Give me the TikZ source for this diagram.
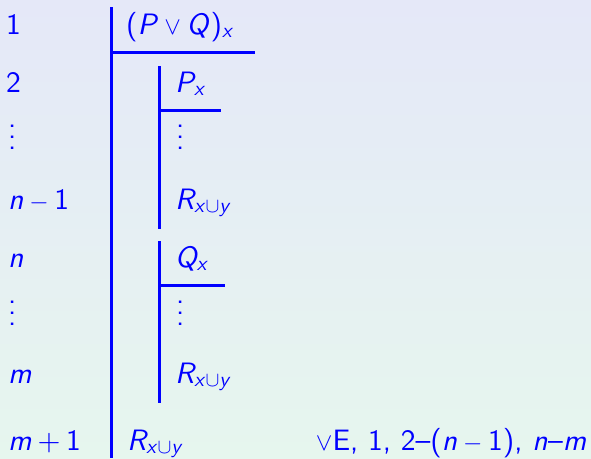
\documentclass[tikz,border=0pt]{standalone}
\DeclareFontFamily{OT1}{mycmss}{\hyphenchar\font=-1}
\DeclareFontShape{OT1}{mycmss}{m}{n}{<-> cmss10}{}
\DeclareFontShape{OT1}{mycmss}{m}{sl}{<-> cmssi10}{}
\DeclareFontShape{OT1}{mycmss}{m}{it}{<-> cmssi10}{}
\DeclareMathVersion{sans}
\SetSymbolFont{operators}{sans}{OT1}{mycmss}{m}{n}
\SetSymbolFont{letters}{sans}{OT1}{mycmss}{m}{sl}
\SetMathAlphabet{\mathrm}{sans}{OT1}{mycmss}{m}{n}
\definecolor{bgtop}{RGB}{229,232,248}
\definecolor{bgbot}{RGB}{230,246,238}
\newcommand\myvd{\vbox{\baselineskip=11pt\lineskiplimit=0pt\hbox{.}\hbox{.}\hbox{.}}}
\tikzset{
  lbl/.style={anchor=base west, inner sep=0pt, text=blue,
    font=\usefont{OT1}{mycmss}{m}{n}\fontsize{29.5}{34}\selectfont},
  bar/.style={draw=blue, line width=3pt}
}
\begin{document}
\mathversion{sans}
\begin{tikzpicture}[x=1pt,y=-1pt]
\shade[top color=bgtop, bottom color=bgbot] (0,0) rectangle (591,458);
\useasboundingbox (0,0) rectangle (591,458);
% line numbers
\node[lbl] (l1) at (6,34) {1};
\node[lbl] (l2) at (6,92) {2};
\node[lbl] (l3) at (8,149) {\myvd};
\node[lbl] (l4) at (8,209) {$n-1$};
\node[lbl] (l5) at (8,267) {$n$};
\node[lbl] (l6) at (8,325) {\myvd};
\node[lbl] (l7) at (8,383) {$m$};
\node[lbl] (l8) at (8,450) {$m+1$};
% formulas
\node[lbl] (f1) at (126,34) {$(P\vee Q)_x$};
\node[lbl] (f2) at (175,92) {$P_x$};
\node[lbl] (f3) at (176,149) {\myvd};
\node[lbl] (f4) at (175,209) {$R_{x\cup y}$};
\node[lbl] (f5) at (175,267) {$Q_x$};
\node[lbl] (f6) at (176,325) {\myvd};
\node[lbl] (f7) at (175,383) {$R_{x\cup y}$};
\node[lbl] (f8) at (127,450) {$R_{x\cup y}$};
\node[lbl, anchor=base east] (j8) at (587,450) {$\vee$E, 1, 2--($n-1$), $n$--$m$};
% main subproof bars
\coordinate (m0) at (111.5,7);
\coordinate (m1) at (111.5,458);
\coordinate (mh0) at (111.5,52.5);
\coordinate (mh1) at (255,52.5);
\draw[bar] (m0) -- (m1);
\draw[bar] (mh0) -- (mh1);
% first inner
\coordinate (a0) at (159.5,66);
\coordinate (a1) at (159.5,229);
\coordinate (ah1) at (221,110.5);
\draw[bar] (a0) -- (a1);
\draw[bar] (a0 |- ah1) -- (ah1);
% second inner
\coordinate (b0) at (159.5,241);
\coordinate (b1) at (159.5,403);
\coordinate (bh1) at (225,285);
\draw[bar] (b0) -- (b1);
\draw[bar] (b0 |- bh1) -- (bh1);
\end{tikzpicture}
\end{document}
